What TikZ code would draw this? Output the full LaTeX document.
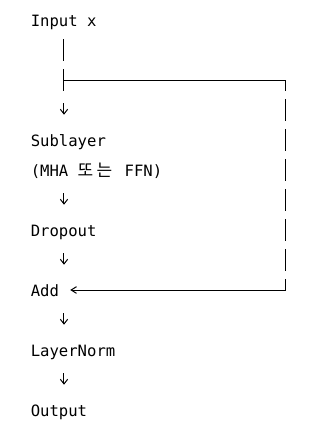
\documentclass[tikz,border=0pt]{standalone}
\usepackage{fontspec}
\setmonofont{DejaVu Sans Mono}
\newfontfamily\krfont{Noto Sans CJK KR}
\usetikzlibrary{arrows.meta, positioning}
\newcommand{\hanglyph}[1]{\makebox[14.1pt][l]{\krfont\fontsize{12.75}{15}\selectfont #1}}

\begin{document}
\begin{tikzpicture}[x=0.75pt, y=0.75pt,
    codeline/.style={anchor=west, inner sep=0pt, text height=11.25pt, text depth=1.5pt, font=\ttfamily\fontsize{11.7}{14}\selectfont},
    flow/.style={line width=0.75pt, -{Straight Barb[length=3.5pt,width=5.5pt]}, shorten <=10.875pt, shorten >=12.375pt},
    rail/.style={line width=0.75pt}]
  \useasboundingbox (0,0) rectangle (320,-437);
  \node[codeline] (input) at (30.5,-20) {Input x};
  \node[codeline] (sub) at (30.5,-140) {Sublayer};
  \node[codeline] (subinfo) at (30.5,-170) {(MHA \hanglyph{또}\hanglyph{는} FFN)};
  \node[codeline] (drop) at (30.5,-230) {Dropout};
  \node[codeline] (add) at (30.5,-290) {Add};
  \node[codeline] (norm) at (30.5,-350) {LayerNorm};
  \node[codeline] (out) at (30.5,-410) {Output};
  \coordinate (split) at (64,-80);
  \coordinate (railtop) at (286,-80);
  \coordinate (railbot) at (286,-290);
  \draw[flow, shorten <=7.875pt, dash pattern=on 16.5pt off 6pt on 16.5pt off 9pt on 20pt] (input.south -| split) -- (sub.north -| split);
  \draw[flow] (subinfo.south -| split) -- (drop.north -| split);
  \draw[flow] (drop.south -| split) -- (add.north -| split);
  \draw[flow] (add.south -| split) -- (norm.north -| split);
  \draw[flow] (norm.south -| split) -- (out.north -| split);
  \draw[rail] (split) -- (railtop);
  \draw[rail, dash pattern=on 16.5pt off 6pt, dash phase=8.25pt] (railtop) -- (railbot);
  \draw[rail, -{Straight Barb[length=4pt,width=5pt]}, shorten >=8.25pt] (railbot) -- (add);
\end{tikzpicture}
\end{document}
